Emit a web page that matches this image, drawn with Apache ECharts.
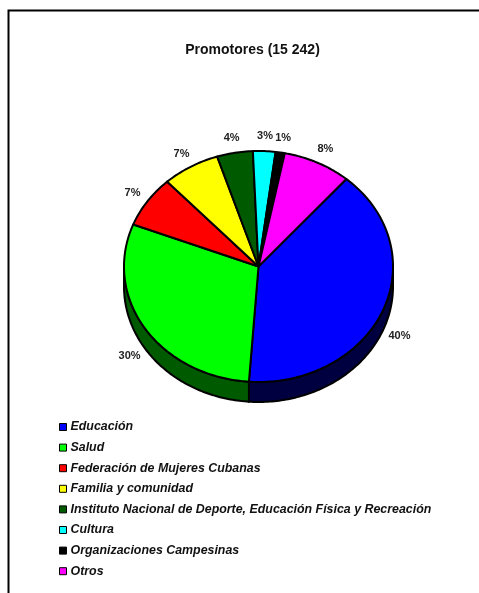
<!DOCTYPE html>
<html>
<head>
<meta charset="utf-8">
<style>html,body{margin:0;padding:0;background:#fff}#c{width:479px;height:593px}</style>
<script src="https://cdn.jsdelivr.net/npm/echarts@6/dist/echarts.min.js"></script>
</head>
<body>
<div id="c"></div>
<script>
const titleText = 'Promotores (15 242)';
const categories = ['Educación','Salud','Federación de Mujeres Cubanas','Familia y comunidad','Instituto Nacional de Deporte, Educación Física y Recreación','Cultura','Organizaciones Campesinas','Otros'];
const values = [39.8,29.8,7.2,6.9,4.3,2.7,1.1,8.2];
const colors = ['#0000ff','#00ff00','#ff0000','#ffff00','#005a00','#00ffff','#000000','#ff00ff'];
const sideColors = ['#000040','#005a00','#400000','#404000','#002000','#004040','#000000','#400040'];
const startDeg = 40.8;

const cx = 258.5, cy = 266.5, rx = 134.5, ry = 115.5, depth = 20;
const FONT = '"Liberation Sans", Arial, sans-serif';
const total = values.reduce((a,b)=>a+b,0);
const rad = d => d*Math.PI/180;
const pt = (d,dy=0) => [cx+rx*Math.sin(rad(d)), cy-ry*Math.cos(rad(d))+dy];

function arcPts(a,b,dy){
  const n = Math.max(2,Math.ceil(Math.abs(b-a)));
  const out=[];
  for(let i=0;i<=n;i++) out.push(pt(a+(b-a)*i/n,dy));
  return out;
}

function renderer(idx){
  let before = 0;
  for(let i=0;i<idx;i++) before += values[i];
  return function(params, api){
    const v = api.value(0);
    const a = startDeg + before/total*360;
    const b = a + v/total*360;
    const children = [];
    // visible side wall: front half of the rim, 90..270 degrees
    const wa = Math.max(a,90), wb = Math.min(b,270);
    if(wb>wa){
      const pts = arcPts(wa,wb,0).concat(arcPts(wb,wa,depth));
      children.push({type:'polygon',shape:{points:pts},z2:1,
        style:{fill:sideColors[idx],stroke:'#000',lineWidth:2,lineJoin:'round'}});
    }
    const top = [[cx,cy]].concat(arcPts(a,b,0));
    children.push({type:'polygon',shape:{points:top},z2:2,
      style:{fill:colors[idx],stroke:'#000',lineWidth:2,lineJoin:'round'}});
    const m = rad((a+b)/2);
    const lx = cx+(rx+18)*Math.sin(m);
    const ly = cy-(ry+15)*Math.cos(m)+(Math.cos(m)<0?depth:0);
    children.push({type:'text',z2:3,x:lx,y:ly,
      style:{text:Math.round(v/total*100)+'%',fill:'#222',
        font:'bold 11px '+FONT,align:'center',verticalAlign:'middle'}});
    return {type:'group',children};
  };
}

const series = categories.map((name,i)=>({
  type:'custom',name,coordinateSystem:'none',
  data:[[values[i]]],
  itemStyle:{color:colors[i]},
  renderItem:renderer(i),
  silent:true,animation:false
}));

const chart = echarts.init(document.getElementById('c'),null,{renderer:'canvas'});
chart.setOption({
  animation:false,
  backgroundColor:'#fff',
  title:{text:titleText,left:247.5,top:38,textAlign:'center',
    textStyle:{fontFamily:FONT,fontSize:14,fontWeight:'bold',color:'#111'}},
  legend:{
    orient:'vertical',left:59,top:421,selectedMode:false,
    itemWidth:7,itemHeight:7,itemGap:8.6,padding:0,
    icon:'rect',
    textStyle:{fontFamily:FONT,fontSize:12.4,fontWeight:'bold',fontStyle:'italic',color:'#111',padding:[0,0,0,-1],height:11,lineHeight:11},
    data:categories.map((name,i)=>({name,itemStyle:{color:colors[i],borderColor:'#000',borderWidth:1}}))
  },
  graphic:[{type:'polyline',silent:true,
    shape:{points:[[8.5,593],[8.5,10.5],[479,10.5]]},
    style:{stroke:'#000',lineWidth:2,fill:null}}],
  series
});
</script>
</body>
</html>
